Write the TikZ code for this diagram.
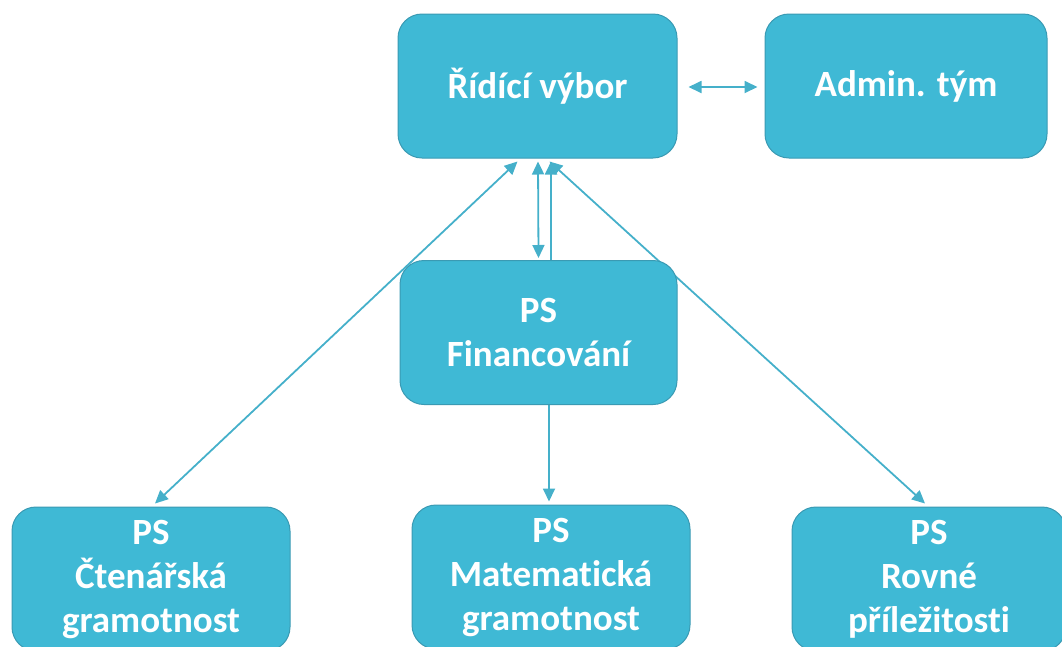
\documentclass[tikz,border=0pt]{standalone}
\usepackage{fontspec}
\setmainfont{Carlito}[Ligatures=NoCommon]
\usepackage{xcolor}
\usetikzlibrary{calc,arrows.meta,backgrounds}
\definecolor{aqua}{HTML}{3FB9D5}
\definecolor{aquadark}{HTML}{3A9AB3}
\definecolor{aqualine}{HTML}{45B0CA}

\begin{document}
\begin{tikzpicture}[x=1pt,y=-1pt,
  box/.style={draw=aquadark,line width=1pt,fill=aqua,rounded corners=24pt,
    minimum width=279pt,minimum height=144pt,text=white,align=center,
    font=\fontsize{37}{44}\selectfont\bfseries},
  link/.style={aqualine,line width=1.8pt,-{Triangle[length=13pt,width=12pt]}},
  both/.style={link,{Triangle[length=13pt,width=12pt]}-{Triangle[length=13pt,width=12pt]}}]
\useasboundingbox (0,0) rectangle (1062,646);
\node[box] (ridici) at (537.5,86) {Řídící výbor};
\node[box,minimum width=282pt] (admin) at (906,86) {Admin. tým};
\node[box,minimum width=277pt] (fin) at (538.5,332.5) {PS\\Financování};
\node[box,minimum width=278pt] (cten) at (151,579) {PS\\Čtenářská\\gramotnost};
\node[box,minimum width=278pt] (mat) at (551,577) {PS\\Matematická\\gramotnost};
\node[box,minimum width=274pt] (rovne) at (929,579) {PS\\Rovné\\příležitosti};
\begin{scope}[on background layer]
\draw[both] ($(ridici.east)+(11,1)$) -- ($(admin.west)+(-7,1)$);
\draw[both] ($(ridici.south)+(0.5,3)$) -- ($(fin.north)+(0,-2)$);
\draw[link] ($(fin.north)+(12.5,0)$) -- ($(ridici.south)+(13.5,3)$);
\draw[both] ($(ridici.south)+(-20,3)$) -- ($(cten.north)+(4,-3)$);
\draw[both] ($(ridici.south)+(12,3)$) -- ($(rovne.north)+(-4,-3)$);
\draw[link] ($(fin.south)+(10.5,0)$) -- ($(mat.north)+(-2,-3)$);
\end{scope}
\end{tikzpicture}
\end{document}
